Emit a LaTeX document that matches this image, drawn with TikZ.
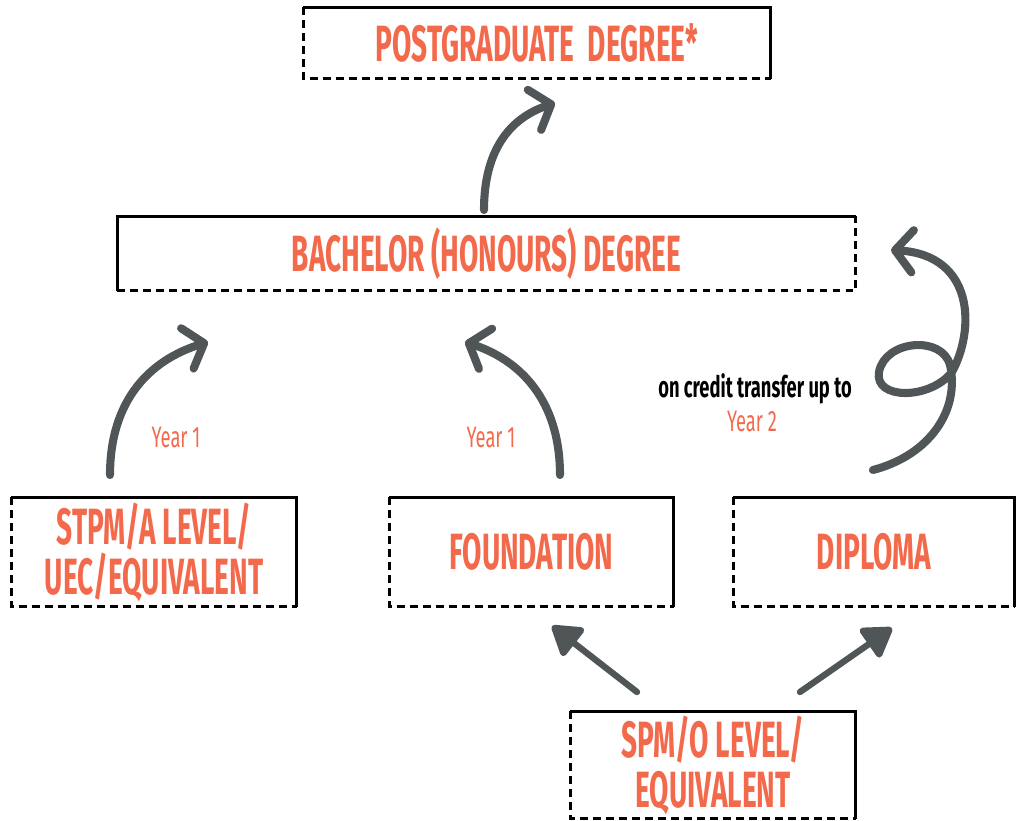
\documentclass[tikz,border=0pt]{standalone}
\usepackage{fontspec}
\usetikzlibrary{arrows.meta,positioning}
\newfontfamily\condfont[FakeStretch=0.55]{Fira Sans}
\newfontfamily\notefont[FakeStretch=0.62]{Fira Sans}
\definecolor{degorange}{RGB}{242,106,75}
\definecolor{arrowgrey}{RGB}{80,85,88}

\tikzset{
  level/.style={inner sep=0pt, align=center, text=degorange,
    font=\condfont\bfseries\fontsize{14.5}{14.2}\selectfont},
  yearlabel/.style={inner sep=0pt, text=degorange, font=\notefont\fontsize{8.4}{9}\selectfont},
  notelabel/.style={inner sep=0pt, font=\notefont\bfseries\fontsize{8.4}{9}\selectfont},
  solidedge/.style={line width=0.9pt},
  dashedge/.style={line width=0.9pt, dash pattern=on 2.2pt off 1.5pt},
  curvearrow/.style={draw=arrowgrey, line width=2.3pt, line cap=round, line join=round,
    -{Straight Barb[round, length=5pt, width=12pt]}},
  pusharrow/.style={draw=arrowgrey, line width=1.8pt, line cap=round,
    -{Triangle[round, length=9pt, width=11pt]}},
}

\begin{document}
\begin{tikzpicture}[x=0.01cm, y=-0.01cm]
      \useasboundingbox (0,0) rectangle (1017,821);

      \node[level, minimum width=4.66cm, minimum height=0.70cm] (post) at (537,43) {POSTGRADUATE\ \ DEGREE*};
      \node[level, minimum width=7.37cm, minimum height=0.73cm] (bach) at (486.5,253.5) {BACHELOR (HONOURS) DEGREE};
      \node[level, minimum width=2.84cm, minimum height=1.08cm] (stpm) at (154,552) {STPM/A LEVEL/\\UEC/EQUIVALENT};
      \node[level, minimum width=2.83cm, minimum height=1.08cm] (found) at (531.5,552) {FOUNDATION};
      \node[level, minimum width=2.80cm, minimum height=1.08cm] (dipl) at (874,552) {DIPLOMA};
      \node[level, minimum width=2.84cm, minimum height=1.06cm] (spm) at (713,765) {SPM/O LEVEL/\\EQUIVALENT};

      % box outlines: solid on two sides, dashed on the others
      \foreach \b in {post, stpm, found, dipl, spm} {
        \draw[solidedge] (\b.south east) |- (\b.north west);
        \draw[dashedge] (\b.north west) |- (\b.south east);
      }
      \draw[solidedge] (bach.north east) -| (bach.south west);
      \draw[dashedge] (bach.south west) -| (bach.north east);

      \node[yearlabel] (yearA) at (176,438) {Year 1};
      \node[yearlabel] (yearB) at (491,438) {Year 1};
      \node[notelabel] (credit) at (755,389) {on credit transfer up to};
      \node[yearlabel] (yearC) at (752,421) {Year 2};

      \coordinate (postIn) at (555,103);
      \coordinate (bachOut) at (484,210);
      \coordinate (bachInA) at (208,342);
      \coordinate (bachInB) at (465,342);
      \coordinate (bachInC) at (891,250);
      \coordinate (stpmOut) at (110,475);
      \coordinate (foundOut) at (560,475);
      \coordinate (diplOut) at (873,470);
      \coordinate (foundIn) at (552,626);
      \coordinate (diplIn) at (892,628);
      \coordinate (spmOutA) at (637,692);
      \coordinate (spmOutB) at (800,692);

      \draw[curvearrow] (bachOut) .. controls (484,150) and (510,118) .. (postIn);
      \draw[curvearrow] (stpmOut) .. controls (110,400) and (150,360) .. (bachInA);
      \draw[curvearrow] (foundOut) .. controls (560,400) and (520,360) .. (bachInB);
      \draw[curvearrow] (diplOut) .. controls (930,455) and (960,410) .. (950,365)
        .. controls (942,335) and (885,340) .. (879,372)
        .. controls (874,400) and (930,400) .. (952,372)
        .. controls (975,330) and (975,255) .. (bachInC);

      \draw[pusharrow] (spmOutA) -- (foundIn);
      \draw[pusharrow] (spmOutB) -- (diplIn);
\end{tikzpicture}
\end{document}
